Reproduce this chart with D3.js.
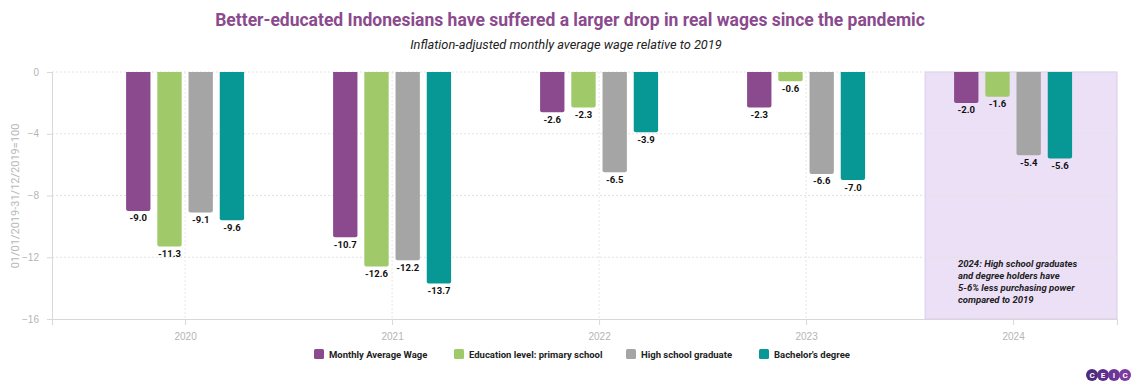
<!DOCTYPE html>
<html lang="en">
<head>
<meta charset="UTF-8" />
<title>Indonesia real wages</title>
<style>
  body { margin: 0; background: white; font-family: Roboto, "Noto Sans", sans-serif; }
  svg { display: block; }
  .tick text { fill: #b5b5b5; font-size: 10px; }
  .value { font-size: 9.5px; font-weight: bold; fill: #111; }
</style>
</head>
<body>
<svg width="1140" height="389"></svg>
<script src="https://d3js.org/d3.v7.min.js"></script>
<script>
const years = [2020, 2021, 2022, 2023, 2024];
const seriesNames = ["Monthly Average Wage", "Education level: primary school", "High school graduate", "Bachelor's degree"];
const avgWage = [-9.0, -10.7, -2.6, -2.3, -2.0];
const primary = [-11.3, -12.6, -2.3, -0.6, -1.6];
const highSchool = [-9.1, -12.2, -6.5, -6.6, -5.4];
const bachelor = [-9.6, -13.7, -3.9, -7.0, -5.6];
const yTicks = [0, -4, -8, -12, -16];
const colors = ["#8a4a8d", "#a0c96a", "#a5a5a5", "#079895"];

const allSeries = [avgWage, primary, highSchool, bachelor];

const svg = d3.select("svg");
const plotLeft = 52, plotRight = 1117, plotTop = 72, plotBottom = 319;

const x = d3.scaleLinear().domain([2019.357, 2024.502]).range([plotLeft, plotRight]);
const y = d3.scaleLinear().domain([0, -16]).range([plotTop, plotBottom]);
const inner = d3.scaleBand().domain(d3.range(4)).range([-59, 59]).paddingInner(0.22);

// highlighted 2024 region
svg.append("rect")
  .attr("x", x(2023.575)).attr("y", plotTop)
  .attr("width", plotRight - x(2023.575)).attr("height", plotBottom - plotTop)
  .attr("fill", "#ece0f7").attr("stroke", "#dccbef");

// gridlines
svg.append("g").selectAll("line").data(yTicks.slice(0, 4)).join("line")
  .attr("x1", plotLeft).attr("x2", plotRight)
  .attr("y1", d => y(d)).attr("y2", d => y(d))
  .attr("stroke", "#e2e2e2").attr("stroke-dasharray", "2,2");
svg.append("g").selectAll("line").data(years).join("line")
  .attr("x1", d => x(d)).attr("x2", d => x(d))
  .attr("y1", plotTop).attr("y2", plotBottom)
  .attr("stroke", "#e6e6e6").attr("stroke-dasharray", "2,2");

// axes
const yAxis = svg.append("g").attr("transform", `translate(${plotLeft},0)`)
  .call(d3.axisLeft(y).tickValues(yTicks).tickSize(5).tickPadding(8));
yAxis.select(".domain").attr("stroke", "#d8d8d8");
yAxis.selectAll(".tick line").attr("stroke", "#d8d8d8");

const xAxis = svg.append("g").attr("transform", `translate(0,${plotBottom})`)
  .call(d3.axisBottom(x).tickValues(years).tickFormat(d3.format("d")).tickSize(6).tickPadding(8));
xAxis.select(".domain").attr("stroke", "#d8d8d8");
xAxis.selectAll(".tick line").attr("stroke", "#d8d8d8");

svg.append("text")
  .attr("transform", `translate(19,196) rotate(-90)`)
  .attr("text-anchor", "middle")
  .attr("fill", "#b8b8b8").attr("font-size", 11)
  .text("01/01/2019-31/12/2019=100");

// bars
const bars = svg.append("g");
allSeries.forEach((vals, s) => {
  vals.forEach((v, i) => {
    const bx = x(years[i]) + inner(s);
    const bw = inner.bandwidth();
    const y0 = y(0), y1 = y(v);
    bars.append("path")
      .attr("fill", colors[s])
      .attr("d", `M${bx},${y0} H${bx + bw} V${y1 - 2} Q${bx + bw},${y1} ${bx + bw - 2},${y1} H${bx + 2} Q${bx},${y1} ${bx},${y1 - 2} Z`);
    bars.append("text")
      .attr("class", "value")
      .attr("x", bx + bw / 2).attr("y", y1 + 10.5)
      .attr("text-anchor", "middle")
      .text(v.toFixed(1));
  });
});

// titles
svg.append("text").attr("x", 570).attr("y", 26).attr("text-anchor", "middle")
  .attr("font-size", 17.5).attr("font-weight", "bold").attr("fill", "#8a4a8d")
  .text("Better-educated Indonesians have suffered a larger drop in real wages since the pandemic");
svg.append("text").attr("x", 566).attr("y", 49).attr("text-anchor", "middle")
  .attr("font-size", 12.8).attr("font-style", "italic").attr("fill", "#222")
  .text("Inflation-adjusted monthly average wage relative to 2019");

// annotation
const note = ["2024: High school graduates", "and degree holders have", "5-6% less purchasing power", "compared to 2019"];
svg.append("g").selectAll("text").data(note).join("text")
  .attr("x", 958).attr("y", (d, i) => 267 + i * 12)
  .attr("font-size", 9.5).attr("font-weight", "bold").attr("font-style", "italic").attr("fill", "#222")
  .text(d => d);

// legend
const legendX = [314, 454, 626, 759];
const legend = svg.append("g").selectAll("g").data(seriesNames).join("g")
  .attr("transform", (d, i) => `translate(${legendX[i]},349)`);
legend.append("rect").attr("width", 10).attr("height", 10).attr("rx", 1.5).attr("fill", (d, i) => colors[i]);
legend.append("text").attr("x", 15).attr("y", 9)
  .attr("font-size", 9.5).attr("font-weight", "bold").attr("fill", "#222")
  .text(d => d);

// logo
const logoColors = ["#4f2a7e", "#5e2f8a", "#6d3596", "#7b3ba0"];
const logo = svg.append("g").attr("transform", "translate(1092,375)");
["C", "E", "I", "C"].forEach((c, i) => {
  logo.append("circle").attr("cx", i * 11).attr("r", 6).attr("fill", logoColors[i]);
  logo.append("text").attr("x", i * 11).attr("y", 3).attr("text-anchor", "middle")
    .attr("font-size", 8).attr("font-weight", "bold").attr("fill", "white").text(c);
});
</script>
</body>
</html>
